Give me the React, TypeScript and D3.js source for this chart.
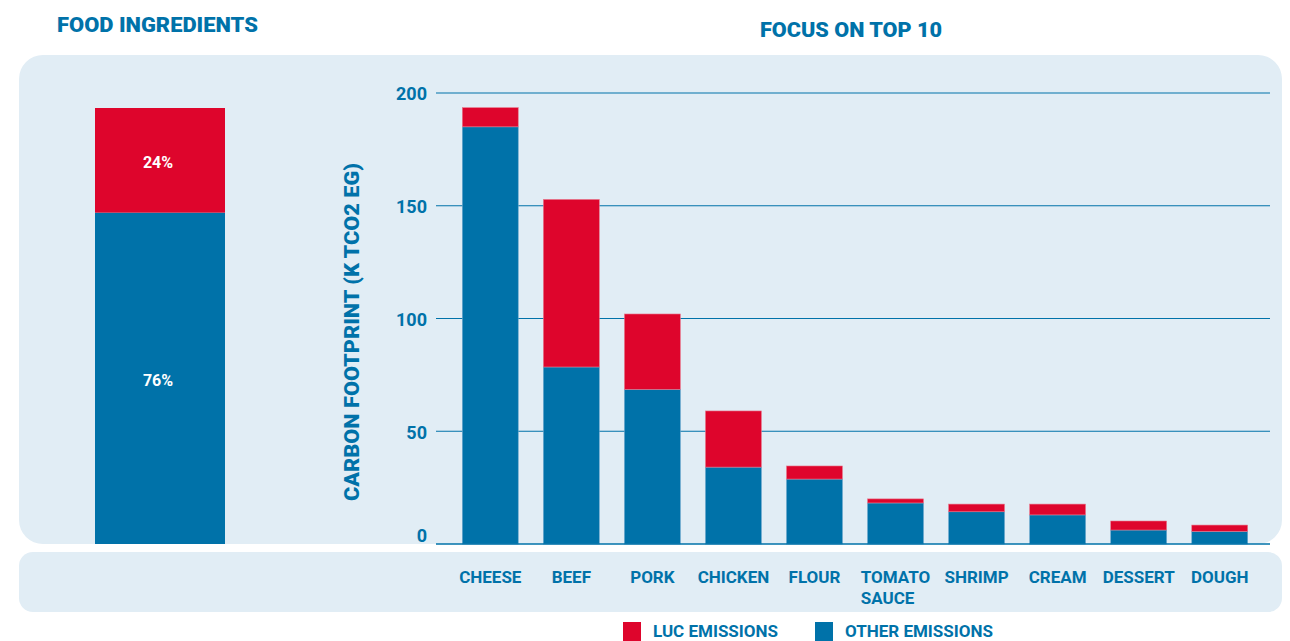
import React, { useRef, useEffect } from "react";
import * as d3 from "d3";

const categories = ["CHEESE", "BEEF", "PORK", "CHICKEN", "FLOUR", "TOMATO SAUCE", "SHRIMP", "CREAM", "DESSERT", "DOUGH"];
const otherEmissions = [185, 78.5, 68.6, 34.1, 28.8, 18.2, 14.3, 12.9, 6.2, 5.6];
const lucEmissions = [8.5, 74.3, 33.4, 24.9, 5.8, 1.8, 3.4, 4.8, 4.0, 2.8];
const shareLabels = ["OTHER", "LUC"];
const shareValues = [76, 24];
const yTicks = [0, 50, 100, 150, 200];

const BLUE = "#0072a9";
const RED = "#de052c";
const BG = "#e1edf5";
const FONT = "Roboto, 'Open Sans', sans-serif";

export default function App() {
  const ref = useRef<SVGSVGElement>(null);

  useEffect(() => {
    const width = 1290;
    const height = 641;
    const svg = d3.select(ref.current);
    svg.selectAll("*").remove();
    svg.attr("width", width).attr("height", height);

    // panels
    svg.append("rect").attr("x", 19).attr("y", 55).attr("width", 1263).attr("height", 489)
      .attr("rx", 24).attr("fill", BG);
    svg.append("rect").attr("x", 19).attr("y", 552).attr("width", 1263).attr("height", 60)
      .attr("rx", 14).attr("fill", BG);

    // titles
    svg.append("text").attr("x", 57).attr("y", 32).text("FOOD INGREDIENTS")
      .attr("fill", BLUE).attr("font-family", FONT).attr("font-weight", 900).attr("font-size", 21)
      .attr("textLength", 201).attr("lengthAdjust", "spacingAndGlyphs");
    svg.append("text").attr("x", 760).attr("y", 37).text("FOCUS ON TOP 10")
      .attr("fill", BLUE).attr("font-family", FONT).attr("font-weight", 900).attr("font-size", 21)
      .attr("textLength", 182).attr("lengthAdjust", "spacingAndGlyphs");

    // left share bar
    const yShare = d3.scaleLinear().domain([0, 100]).range([544, 108]);
    let acc = 0;
    const shareData = shareValues.map((v, i) => {
      const d = { key: shareLabels[i], y0: acc, y1: acc + v, v };
      acc += v;
      return d;
    });
    const left = svg.append("g");
    left.selectAll("rect").data(shareData).join("rect")
      .attr("x", 95).attr("width", 130)
      .attr("y", d => yShare(d.y1))
      .attr("height", d => yShare(d.y0) - yShare(d.y1))
      .attr("fill", d => (d.key === "LUC" ? RED : BLUE));
    left.selectAll("text").data(shareData).join("text")
      .attr("x", 158)
      .attr("y", d => (yShare(d.y0) + yShare(d.y1)) / 2 + 2)
      .attr("dy", "0.35em")
      .attr("text-anchor", "middle")
      .attr("fill", "#fff").attr("font-family", FONT).attr("font-weight", 700).attr("font-size", 16)
      .text(d => `${d.v}%`);

    // main chart
    const x = d3.scaleBand().domain(categories).range([438, 1272]).paddingInner(0.31).paddingOuter(0.3);
    const y = d3.scaleLinear().domain([0, 200]).range([544, 93]);

    const grid = svg.append("g");
    grid.selectAll("line").data(yTicks.filter(t => t > 0)).join("line")
      .attr("x1", 436).attr("x2", 1270)
      .attr("y1", d => y(d)).attr("y2", d => y(d))
      .attr("stroke", BLUE).attr("stroke-width", 1.2);
    grid.selectAll("text").data(yTicks).join("text")
      .attr("x", 427)
      .attr("y", d => (d === 0 ? y(d) - 8 : y(d) + 1))
      .attr("dy", "0.35em")
      .attr("text-anchor", "end")
      .attr("fill", BLUE).attr("font-family", FONT).attr("font-weight", 700).attr("font-size", 18)
      .text(d => d);

    const stacked = categories.map((c, i) => ({ c, other: otherEmissions[i], luc: lucEmissions[i] }));
    const bars = svg.append("g");
    bars.selectAll("rect.other").data(stacked).join("rect").attr("class", "other")
      .attr("x", d => x(d.c)!).attr("width", x.bandwidth())
      .attr("y", d => y(d.other)).attr("height", d => y(0) - y(d.other))
      .attr("fill", BLUE).attr("stroke", "#6aa6cc").attr("stroke-width", 0.6);
    bars.selectAll("rect.luc").data(stacked).join("rect").attr("class", "luc")
      .attr("x", d => x(d.c)!).attr("width", x.bandwidth())
      .attr("y", d => y(d.other + d.luc)).attr("height", d => y(d.other) - y(d.other + d.luc))
      .attr("fill", RED).attr("stroke", "#e8788c").attr("stroke-width", 0.6);

    // baseline
    svg.append("line").attr("x1", 436).attr("x2", 1270).attr("y1", y(0)).attr("y2", y(0))
      .attr("stroke", BLUE).attr("stroke-width", 1.5);

    // y axis title
    svg.append("text")
      .attr("transform", `translate(359,332) rotate(-90)`)
      .attr("text-anchor", "middle")
      .attr("fill", BLUE).attr("font-family", FONT).attr("font-weight", 900).attr("font-size", 20)
      .attr("textLength", 338).attr("lengthAdjust", "spacingAndGlyphs")
      .text("CARBON FOOTPRINT (K TCO2 EG)");

    // category labels
    const labels = svg.append("g").attr("fill", BLUE).attr("font-family", FONT)
      .attr("font-weight", 700).attr("font-size", 17);
    categories.forEach(c => {
      const cx = x(c)! + x.bandwidth() / 2;
      const words = c.split(" ");
      const t = labels.append("text").attr("x", cx).attr("y", 583).attr("text-anchor", "middle").text(words[0]);
      if (words.length > 1) {
        const w = (t.node() as SVGTextElement).getComputedTextLength();
        labels.append("text").attr("x", cx - w / 2).attr("y", 604).attr("text-anchor", "start").text(words[1]);
      }
    });

    // legend
    const legendItems = [
      { label: "LUC EMISSIONS", color: RED, x: 623 },
      { label: "OTHER EMISSIONS", color: BLUE, x: 815 },
    ];
    const lg = svg.append("g");
    legendItems.forEach(it => {
      lg.append("rect").attr("x", it.x).attr("y", 622).attr("width", 18).attr("height", 19).attr("fill", it.color);
      lg.append("text").attr("x", it.x + 30).attr("y", 637).text(it.label)
        .attr("fill", BLUE).attr("font-family", FONT).attr("font-weight", 700).attr("font-size", 17);
    });
  }, []);

  return (
    <div style={{ position: "absolute", left: 0, top: 0 }}>
      <svg ref={ref}></svg>
    </div>
  );
}
